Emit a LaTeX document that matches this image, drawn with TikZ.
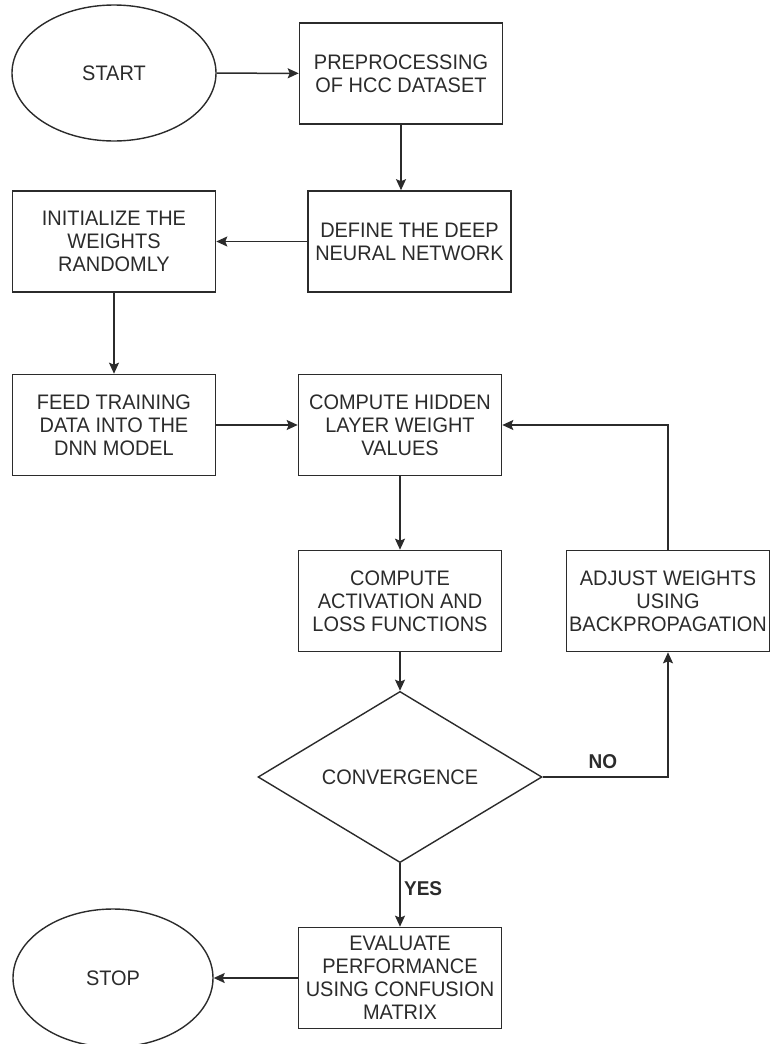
\documentclass[tikz,border=0pt]{standalone}
\usepackage{fontspec}
\setmainfont{Liberation Sans}[FakeStretch=0.95]
\usetikzlibrary{shapes.geometric,arrows.meta}
\definecolor{inkgray}{HTML}{2B2B2B}
\begin{document}
\begin{tikzpicture}[x=1pt,y=-1pt,
  every node/.style={text=inkgray,font=\fontsize{21}{23}\selectfont,align=center},
  proc/.style={draw=inkgray,line width=1.6pt,rectangle,minimum width=203pt,minimum height=101pt,inner sep=2pt},
  term/.style={draw=inkgray,line width=1.4pt,ellipse,minimum width=204pt,minimum height=136pt},
  decide/.style={draw=inkgray,line width=1.4pt,diamond,minimum width=284pt,minimum height=132pt,inner sep=0pt},
  arr/.style={draw=inkgray,line width=1.5pt,-{Stealth[length=11pt,width=10pt,inset=2pt]}},
  lbl/.style={font=\fontsize{20}{22}\selectfont\bfseries}]
\useasboundingbox (0,0) rectangle (769,1044);

\node[term] (start) at (114,73) {START};
\node[proc] (prep) at (401,73.5) {PREPROCESSING\\OF HCC DATASET};
\node[proc] (define) at (409.5,241.5) {DEFINE THE DEEP\\NEURAL NETWORK};
\node[proc] (init) at (114,241.5) {INITIALIZE THE\\WEIGHTS\\RANDOMLY};
\node[proc] (feed) at (114,425) {FEED TRAINING\\DATA INTO THE\\DNN MODEL};
\node[proc] (hidden) at (400,425) {COMPUTE HIDDEN\\LAYER WEIGHT\\VALUES};
\node[proc] (act) at (400,601) {COMPUTE\\ACTIVATION AND\\LOSS FUNCTIONS};
\node[proc] (adjust) at (668,601) {ADJUST WEIGHTS\\USING\\BACKPROPAGATION};
\node[decide] (conv) at (400,777) {CONVERGENCE};
\node[proc] (eval) at (400,978) {EVALUATE\\PERFORMANCE\\USING CONFUSION\\MATRIX};
\node[term,minimum width=200pt,minimum height=138pt] (stop) at (113,978) {STOP};

\draw[arr] (start) -- (prep);
\draw[arr] (prep.south) -- (prep.south |- define.north);
\draw[arr] (define) -- (init);
\draw[arr] (init) -- (feed);
\draw[arr] (feed) -- (hidden);
\draw[arr] (hidden) -- (act);
\draw[arr] (act) -- (conv);
\draw[arr] (conv.east) -| node[lbl,pos=0.24,above=4pt] {NO} (adjust.south);
\draw[arr] (adjust.north) |- (hidden.east);
\draw[arr] (conv.south) -- node[lbl,pos=0.4,right=0pt] {YES} (eval.north);
\draw[arr] (eval) -- (stop);
\end{tikzpicture}
\end{document}
